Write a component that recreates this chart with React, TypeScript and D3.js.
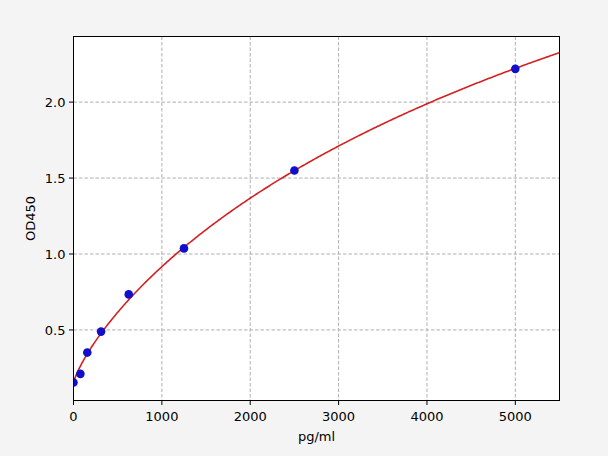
import React from "react";
import * as d3 from "d3";

const concentrations = [0, 78, 156, 312, 625, 1250, 2500, 5000];
const odValues = [0.154, 0.211, 0.351, 0.489, 0.734, 1.037, 1.55, 2.219];
const xTicks = [0, 1000, 2000, 3000, 4000, 5000];
const yTicks = [0.5, 1.0, 1.5, 2.0];
// 4PL fit parameters of the standard curve
const fitA = 0.15;
const fitD = 6.05;
const fitC = 10770;
const fitB = 0.8;

const W = 608;
const H = 456;
const L = 73.5;
const R = 559.5;
const T = 36.5;
const B = 400.5;

export default function App() {
  const x = d3.scaleLinear().domain([0, 5500]).range([L, R]);
  const y = d3.scaleLinear().domain([0.0355, 2.432]).range([B, T]);
  const f = (v: number) => {
    const u = Math.pow(v / fitC, fitB);
    return fitD + (fitA - fitD) / (1 + u);
  };
  const curveX = d3.range(0, 5500.1, 5500 / 400);
  const line = d3
    .line<number>()
    .x((d) => x(d))
    .y((d) => y(f(d)));
  const font = "DejaVu Sans, sans-serif";
  return (
    <svg
      width={W}
      height={H}
      style={{ position: "absolute", left: 0, top: 0 }}
      fontFamily={font}
    >
      <rect x={0} y={0} width={W} height={H} fill="#f4f4f4" />
      <rect x={L} y={T} width={R - L} height={B - T} fill="#ffffff" />
      {xTicks.map((t) => (
        <line
          key={"gx" + t}
          x1={x(t)}
          x2={x(t)}
          y1={T}
          y2={B}
          stroke="#b0b0b0"
          strokeWidth={1}
          strokeDasharray="3.5,2"
        />
      ))}
      {yTicks.map((t) => (
        <line
          key={"gy" + t}
          x1={L}
          x2={R}
          y1={y(t)}
          y2={y(t)}
          stroke="#b0b0b0"
          strokeWidth={1}
          strokeDasharray="3.5,2"
        />
      ))}
      <clipPath id="clip">
        <rect x={L} y={T} width={R - L} height={B - T} />
      </clipPath>
      <path
        d={line(curveX) || ""}
        fill="none"
        stroke="#d42020"
        strokeWidth={1.6}
        clipPath="url(#clip)"
      />
      {concentrations.map((c, i) => (
        <circle
          key={"p" + i}
          cx={x(c)}
          cy={y(odValues[i])}
          r={4.3}
          fill="#1010cc"
          clipPath="url(#clip)"
        />
      ))}
      <rect
        x={L}
        y={T}
        width={R - L}
        height={B - T}
        fill="none"
        stroke="#000"
        strokeWidth={1}
      />
      {xTicks.map((t) => (
        <g key={"xt" + t}>
          <line x1={x(t)} x2={x(t)} y1={B} y2={B + 4.5} stroke="#000" />
          <text
            x={x(t)}
            y={B + 20.5}
            textAnchor="middle"
            fontSize={13}
            fill="#000"
          >
            {t}
          </text>
        </g>
      ))}
      {yTicks.map((t) => (
        <g key={"yt" + t}>
          <line x1={L - 4.5} x2={L} y1={y(t)} y2={y(t)} stroke="#000" />
          <text
            x={L - 8}
            y={y(t)}
            dy="0.36em"
            textAnchor="end"
            fontSize={13}
            fill="#000"
          >
            {t.toFixed(1)}
          </text>
        </g>
      ))}
      <text
        x={(L + R) / 2}
        y={441}
        textAnchor="middle"
        fontSize={13}
        fill="#000"
      >
        pg/ml
      </text>
      <text
        transform={`translate(35,${(T + B) / 2}) rotate(-90)`}
        textAnchor="middle"
        fontSize={13}
        fill="#000"
      >
        OD450
      </text>
    </svg>
  );
}
